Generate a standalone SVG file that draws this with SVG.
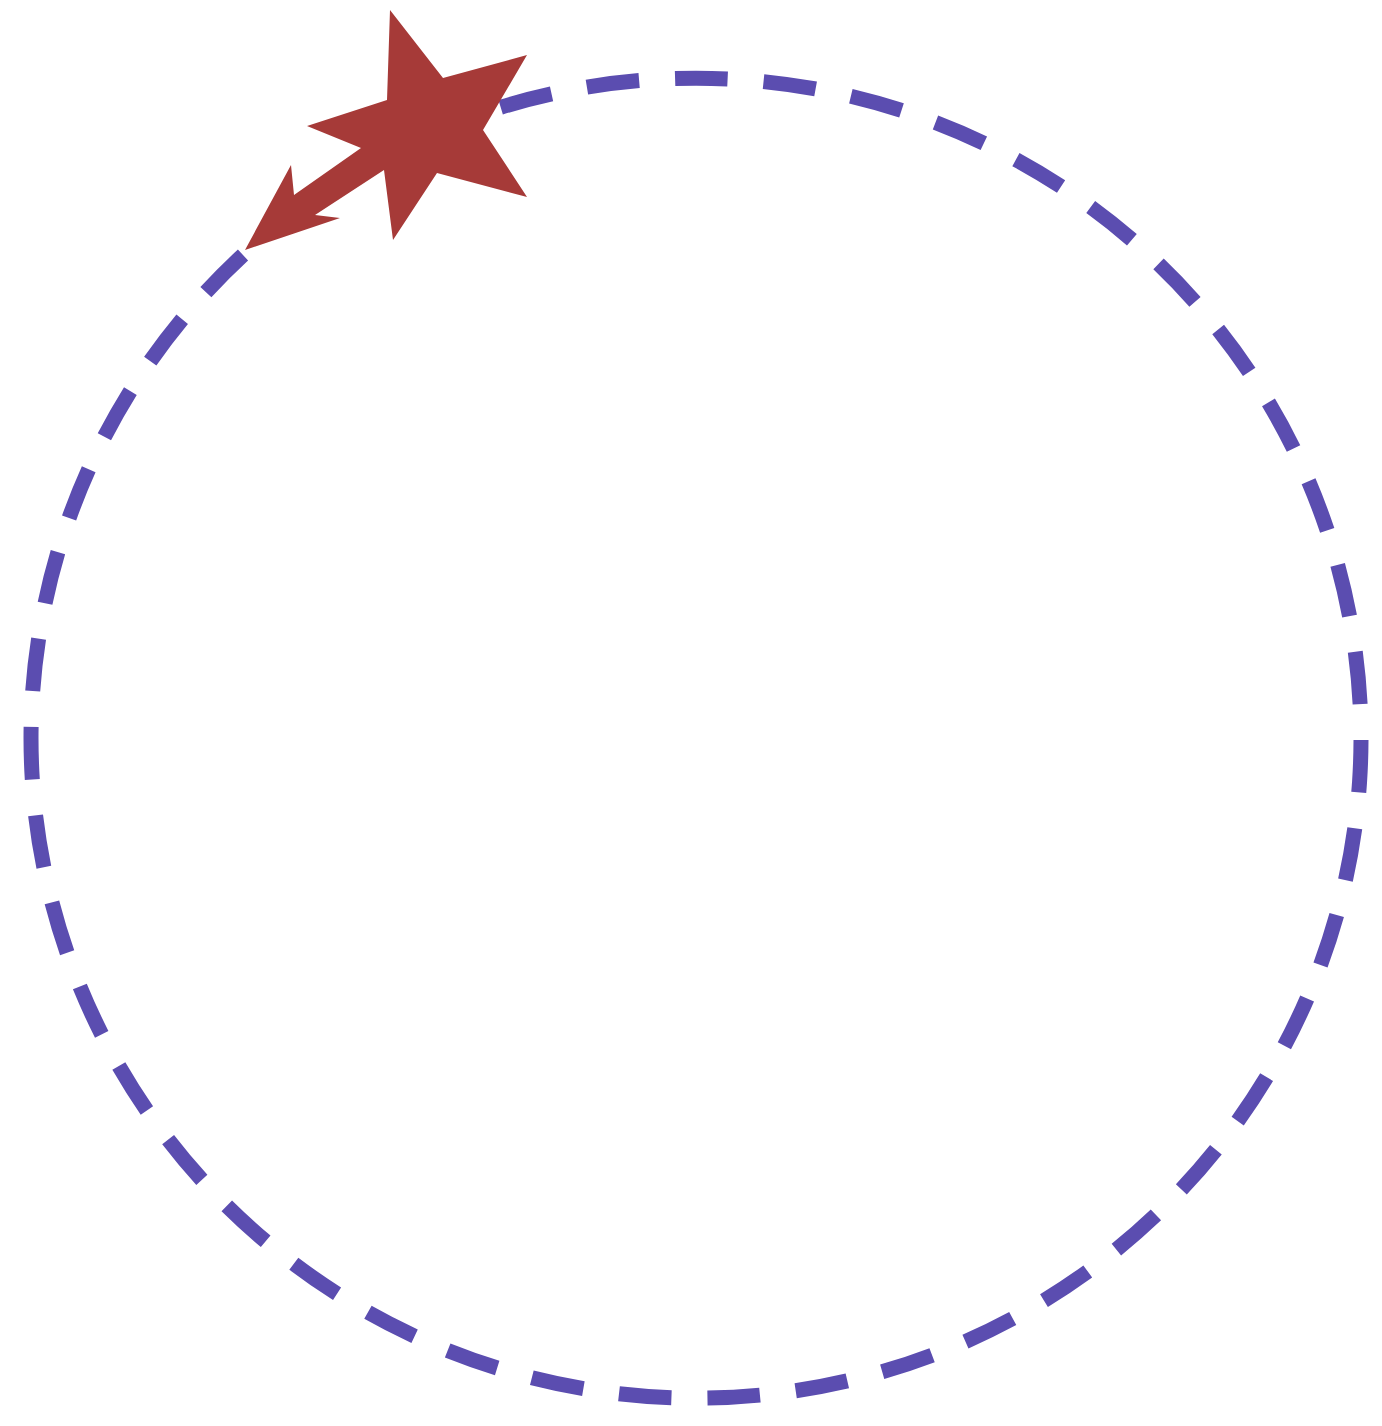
<svg xmlns="http://www.w3.org/2000/svg" width="1382" height="1426" viewBox="0 0 1382 1426">
<style>
.orbit{fill:none;stroke:#5b4db0;stroke-width:15;stroke-dasharray:52.6 36}
.star{fill:#a63a38}
</style>
<rect width="1382" height="1426" fill="#ffffff"/>
<g id="connectors">
<path class="orbit" d="M243,255 A665,660 0 1 0 492,110"/>
</g>
<g id="star">
<polygon class="star" points="390,10 443,78 527,55 483,130 527,197 437,173 393,240 384,170 315,215 340,218 245,250 291,165 294,195 361,148 307,126 387,100"/>
</g>
</svg>
